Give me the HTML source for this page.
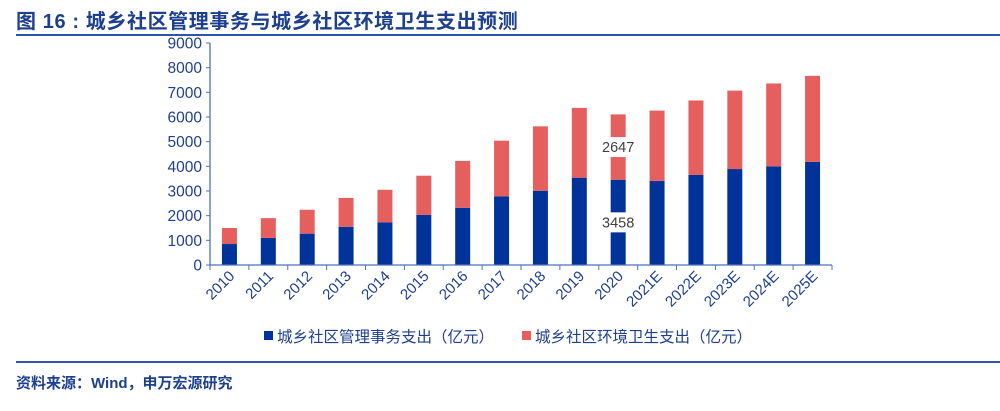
<!DOCTYPE html>
<html><head><meta charset="utf-8">
<style>
body{margin:0;background:#fff;width:1000px;height:406px;overflow:hidden;font-family:"Liberation Sans","Noto Sans CJK SC",sans-serif;}
</style></head>
<body>
<svg width="1000" height="406" xmlns="http://www.w3.org/2000/svg">
<text x="16" y="28" font-size="20" font-weight="bold" fill="#1d3f8f" letter-spacing="0.6" font-family="Liberation Sans, Noto Sans CJK SC, sans-serif">图 16 : 城乡社区管理事务与城乡社区环境卫生支出预测</text>
<line x1="16" y1="35" x2="1000" y2="35" stroke="#2f55a8" stroke-width="2"/>
<line x1="16" y1="362" x2="1000" y2="362" stroke="#2f55a8" stroke-width="2"/>
<text x="16" y="388" font-size="15" font-weight="bold" fill="#1d3f8f">资料来源：Wind，申万宏源研究</text>
<g id="plot"></g>
<g>
<rect x="264" y="331" width="9" height="9" fill="#003399"/>
<text x="277" y="342" font-size="15.5" fill="#1d3f8f">城乡社区管理事务支出（亿元）</text>
<rect x="522" y="331" width="9" height="9" fill="#e55f5f"/>
<text x="535" y="342" font-size="15.5" fill="#1d3f8f">城乡社区环境卫生支出（亿元）</text>
</g>
</svg>
<script>
const categories=["2010","2011","2012","2013","2014","2015","2016","2017","2018","2019","2020","2021E","2022E","2023E","2024E","2025E"];
const management=[850,1100,1270,1550,1730,2030,2320,2780,3010,3540,3458,3410,3650,3890,4000,4180];
const sanitation=[650,800,970,1170,1320,1590,1900,2260,2610,2830,2647,2850,3020,3180,3360,3490];
const yTicks=[0,1000,2000,3000,4000,5000,6000,7000,8000,9000];
const NS="http://www.w3.org/2000/svg";
const g=document.getElementById("plot");
const x0=210,x1=832,y0=265,yTop=43,yMax=9000;
const step=(x1-x0)/categories.length,bw=15;
const y=v=>y0-(v/yMax)*(y0-yTop);
const xc=i=>x0+step*(i+0.5);
function mk(t,a){const e=document.createElementNS(NS,t);for(const k in a)e.setAttribute(k,a[k]);g.appendChild(e);return e;}
const axisColor="#4a72c4";
let e=mk("line",{x1:x0,y1:yTop,x2:x0,y2:y0,stroke:axisColor,"stroke-width":1.3});


yTicks.forEach(v=>{
 let t=mk("line",{x1:x0-4,y1:y(v),x2:x0,y2:y(v),stroke:axisColor});
 
 
 let l=mk("text",{x:x0-8,y:y(v)+5.5,"font-size":15.5,fill:"#1d3f8f","text-anchor":"end"});
 l.textContent=v;
 
 
});
categories.forEach((c,i)=>{
 const cx=xc(i);
 let b=mk("rect",{x:cx-bw/2,y:y(management[i]),width:bw,height:y0-y(management[i]),fill:"#003399"});
 
 
 let r=mk("rect",{x:cx-bw/2,y:y(management[i]+sanitation[i]),width:bw,height:y(management[i])-y(management[i]+sanitation[i]),fill:"#e55f5f"});
 
 
 let l=mk("text",{x:0,y:0,"font-size":15,fill:"#1d3f8f","text-anchor":"end",transform:`translate(${cx+6},${y0+12}) rotate(-45)`});
 l.textContent=c;
 
 
});
for(let i=0;i<=categories.length;i++){
 let t=mk("line",{x1:x0+step*i,y1:y0,x2:x0+step*i,y2:y0+5,stroke:axisColor});
 
 
}
e=mk("line",{x1:x0,y1:y0,x2:x1,y2:y0,stroke:axisColor,"stroke-width":1.3});


const li=categories.indexOf("2020");
[[management[li],y(management[li]/2)],[sanitation[li],y(management[li]+sanitation[li]/2)]].forEach(([v,py],k)=>{
 let bg=mk("rect",{x:xc(li)-20,y:py-10,width:40,height:20,fill:"#fff"});
 
 
 let t=mk("text",{x:xc(li),y:py+5,"font-size":14.5,fill:"#404040","text-anchor":"middle"});
 t.textContent=v;
 
 
});
</script>
</body></html>
